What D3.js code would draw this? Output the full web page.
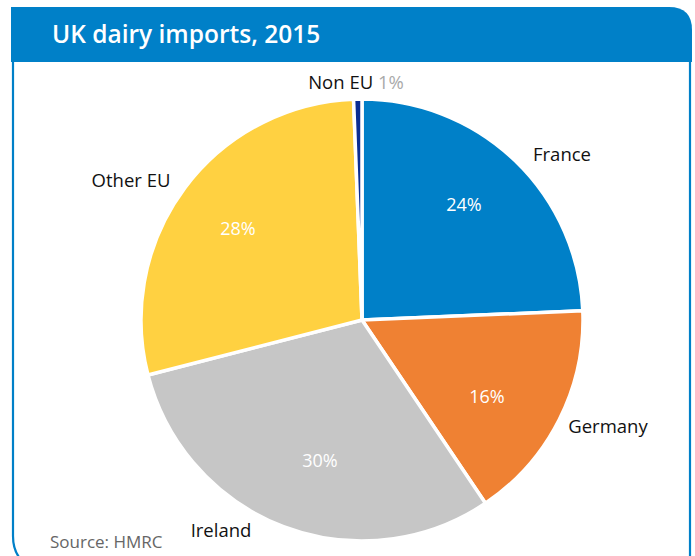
<!DOCTYPE html>
<html>
<head>
<script src="https://d3js.org/d3.v7.min.js"></script>
<style>
  body { margin: 0; background: #fff; }
  text { font-family: "Open Sans", "Noto Sans", sans-serif; }
</style>
</head>
<body>
<svg id="chart" width="695" height="556"></svg>
<script>
// data, clockwise from 12 o'clock (Non EU is a sliver, shown rounded as 1%)
var categories = ["France", "Germany", "Ireland", "Other EU", "Non EU"];
var shares = [24, 16, 30, 28, 0.6];
var colours = ["#0080c8", "#ef8133", "#c6c6c6", "#ffd141", "#0b2d92"];

// label placement relative to the pie centre
var nameOffsets = [[200, -165], [246, 107], [-141, 211], [-231, -139], [-6, -237]];
var pctOffsets = [[102, -115], [125, 77], [-42, 141], [-124, -91], null];

var blue = "#0080c8";
var svg = d3.select("#chart");

// frame: blue header with rounded top right, thin border round the rest
svg.append("path")
  .attr("d", "M13,62 L13,536 Q13,562 38,570 M690,62 L690,570")
  .attr("fill", "none")
  .attr("stroke", blue)
  .attr("stroke-width", 2.2);

svg.append("path")
  .attr("d", "M11,7 L669,7 Q692,7 692,30 L692,62 L11,62 Z")
  .attr("fill", blue);

svg.append("text")
  .attr("x", 52).attr("y", 43)
  .attr("fill", "#fff")
  .attr("font-size", 24.5)
  .attr("font-weight", 600)
  .text("UK dairy imports, 2015");

var cx = 362, cy = 320, radius = 221;

var pie = d3.pie().sort(null).value(function(d) { return d; });
var arcs = pie(shares);
var arc = d3.arc().innerRadius(0).outerRadius(radius);

var g = svg.append("g").attr("transform", "translate(" + cx + "," + cy + ")");

g.selectAll("path.slice")
  .data(arcs)
  .enter().append("path")
  .attr("class", "slice")
  .attr("d", arc)
  .attr("fill", function(d, i) { return colours[i]; })
  .attr("stroke", "#fff")
  .attr("stroke-width", 3.5)
  .attr("stroke-linejoin", "round");

// percentages inside the bigger slices
g.selectAll("text.pct")
  .data(arcs.filter(function(d) { return pctOffsets[d.index]; }))
  .enter().append("text")
  .attr("class", "pct")
  .attr("x", function(d) { return pctOffsets[d.index][0]; })
  .attr("y", function(d) { return pctOffsets[d.index][1]; })
  .attr("text-anchor", "middle")
  .attr("dy", "0.35em")
  .attr("fill", "#fff")
  .attr("font-size", 18)
  .text(function(d) { return Math.round(d.value) + "%"; });

// category names outside
var names = g.selectAll("text.name")
  .data(arcs)
  .enter().append("text")
  .attr("class", "name")
  .attr("x", function(d) { return nameOffsets[d.index][0]; })
  .attr("y", function(d) { return nameOffsets[d.index][1]; })
  .attr("text-anchor", "middle")
  .attr("dy", "0.35em")
  .attr("fill", "#111")
  .attr("font-size", 18.5);

names.append("tspan").text(function(d) { return categories[d.index]; });
names.filter(function(d) { return !pctOffsets[d.index]; })
  .append("tspan")
  .attr("fill", "#aaa")
  .text(function(d) { return " " + Math.round(d.value) + "%"; });

svg.append("text")
  .attr("x", 50).attr("y", 548)
  .attr("fill", "#666")
  .attr("font-size", 17)
  .text("Source: HMRC");
</script>
</body>
</html>
